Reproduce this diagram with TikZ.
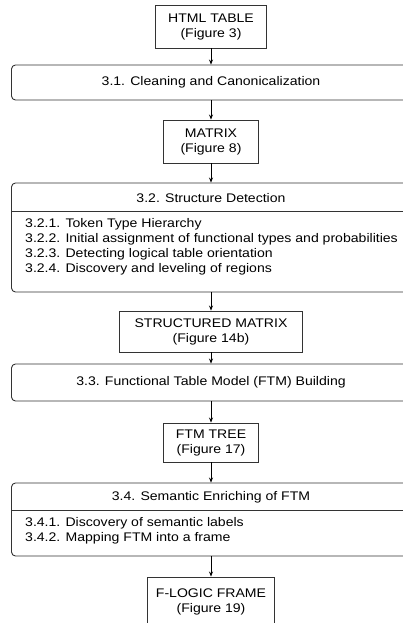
\documentclass[tikz,border=0pt]{standalone}
\usepackage{fontspec}
\setmainfont{Liberation Sans}[FakeStretch=1.125]
\usetikzlibrary{arrows.meta,positioning}

\tikzset{
  txt/.style={font=\fontsize{12.5}{15}\selectfont, inner sep=0pt},
  databox/.style={txt, draw=black!80, line width=0.9pt, align=center},
  stepbox/.style={txt, draw=black!80, line width=0.9pt, rounded corners=4pt, minimum width=399},
  flow/.style={-{Stealth[length=5pt,width=4pt]}, line width=0.7pt}
}

\begin{document}
\begin{tikzpicture}[x=1pt,y=-1pt]

\useasboundingbox (0,0) rectangle (403,623);
\clip (0,0) rectangle (403,623);

% Datenobjekte
\node[databox, minimum width=111, minimum height=43] (html) at (211,26.5) {HTML TABLE\\(Figure 3)};
\node[databox, minimum width=95, minimum height=43] (matrix) at (211,141.5) {MATRIX\\(Figure 8)};
\node[databox, minimum width=183, minimum height=41] (smatrix) at (211,331.5) {STRUCTURED MATRIX\\(Figure 14b)};
\node[databox, minimum width=95, minimum height=39] (ftmtree) at (211,442.5) {FTM TREE\\(Figure 17)};
\node[databox, minimum width=127, minimum height=50] (flogic) at (211,602) {F-LOGIC FRAME\\(Figure 19)};

% Schritte
\node[stepbox, minimum height=35] (clean) at (211,82.5) {3.1. Cleaning and Canonicalization};
\node[stepbox, minimum height=37] (ftmb) at (211,382.5) {3.3. Functional Table Model (FTM) Building};

% 3.2 mit Unterschritten
\node[stepbox, minimum height=109] (struct) at (211,237.5) {};
\node[txt] (structhead) at (211,198) {3.2. Structure Detection};
\coordinate (structsep) at (211,211);
\draw[black!80, line width=0.9pt] (struct.west |- structsep) -- (struct.east |- structsep);
\node[txt, anchor=north west, align=left] (structlist) at (25,218)
  {3.2.1. Token Type Hierarchy\\
   3.2.2. Initial assignment of functional types and probabilities\\
   3.2.3. Detecting logical table orientation\\
   3.2.4. Discovery and leveling of regions};

% 3.4 mit Unterschritten
\node[stepbox, minimum height=73] (sem) at (211,519.5) {};
\node[txt] (semhead) at (211,497) {3.4. Semantic Enriching of FTM};
\coordinate (semsep) at (211,510);
\draw[black!80, line width=0.9pt] (sem.west |- semsep) -- (sem.east |- semsep);
\node[txt, anchor=north west, align=left] (semlist) at (25,517)
  {3.4.1. Discovery of semantic labels\\
   3.4.2. Mapping FTM into a frame};

% Pfeile
\draw[flow] (html) -- (clean);
\draw[flow] (clean) -- (matrix);
\draw[flow] (matrix) -- (struct);
\draw[flow] (struct) -- (smatrix);
\draw[flow] (smatrix) -- (ftmb);
\draw[flow] (ftmb) -- (ftmtree);
\draw[flow] (ftmtree) -- (sem);
\draw[flow] (sem) -- (flogic);

\end{tikzpicture}
\end{document}
